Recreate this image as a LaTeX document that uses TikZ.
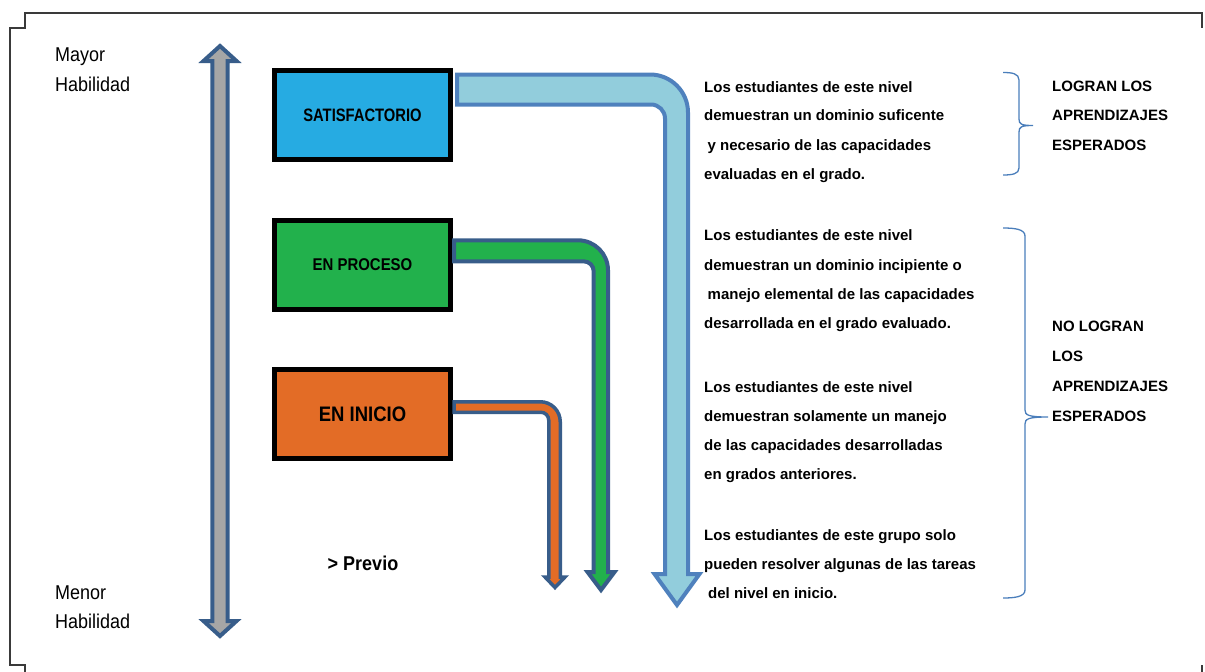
\documentclass[tikz,border=0pt]{standalone}
\usepackage{fontspec}
\setmainfont{Liberation Sans}
\newfontfamily\stA[FakeStretch=0.82]{Liberation Sans}
\newfontfamily\stB[FakeStretch=0.88]{Liberation Sans}
\newfontfamily\stC[FakeStretch=0.90]{Liberation Sans}
\definecolor{satfill}{RGB}{38,171,226}
\definecolor{profill}{RGB}{34,177,76}
\definecolor{inifill}{RGB}{227,108,38}
\definecolor{lbfill}{RGB}{146,205,220}
\definecolor{lbedge}{RGB}{79,129,189}
\definecolor{dkedge}{RGB}{56,93,138}
\definecolor{grayfill}{RGB}{166,166,166}
\definecolor{braceblue}{RGB}{74,126,187}
\definecolor{framegray}{RGB}{58,58,58}
\tikzset{
  levelbox/.style={draw=black, line width=5pt, minimum width=176pt, minimum height=89pt, inner sep=0pt},
  para/.style={anchor=base west, inner sep=0pt, font=\fontsize{15}{18}\selectfont\bfseries},
  sidelabel/.style={anchor=base west, inner sep=0pt, font=\fontsize{15}{18}\selectfont\bfseries},
  habil/.style={anchor=base west, inner sep=0pt, font=\stC\fontsize{20}{24}\selectfont},
  bracestyle/.style={draw=braceblue, line width=1.3pt},
  framestyle/.style={draw=framegray, line width=2pt},
  bentarrow/.style={line join=miter},
}
\begin{document}
\begin{tikzpicture}[x=1pt,y=-1pt]
\useasboundingbox (0,0) rectangle (1205,672);
% frame
\draw[framestyle] (25,672) -- (25,665) -- (10,665) -- (10,28) -- (25,28) -- (25,13) -- (1202,13) -- (1202,28);
\draw[framestyle] (1202,665) -- (1202,672);
% gray double arrow
\draw[fill=grayfill, draw=dkedge, line width=4pt, line join=miter]
  (220,46) -- (236.5,61) -- (227.7,61) -- (227.7,621) -- (236.5,621) -- (220,636)
  -- (203.5,621) -- (212.3,621) -- (212.3,61) -- (203.5,61) -- cycle;
% labels left
\node[habil] (may) at (55,61.7) {Mayor};
\node[habil] (hab1) at (55,91.7) {Habilidad};
\node[habil] (men) at (55,599.3) {Menor};
\node[habil] (hab2) at (55,628.3) {Habilidad};
% boxes
\node[levelbox, fill=satfill, font=\stA\fontsize{18}{20}\selectfont\bfseries] (sat) at (362.5,115) {SATISFACTORIO};
\node[levelbox, fill=profill, font=\stB\fontsize{17}{20}\selectfont\bfseries] (pro) at (362.5,265) {EN PROCESO};
\node[levelbox, fill=inifill, font=\stB\fontsize{21}{24}\selectfont\bfseries] (ini) at (362.5,414) {EN INICIO};
\node[inner sep=0pt, font=\stC\fontsize{20}{24}\selectfont\bfseries] (prev) at (363,563) {> Previo};
% light blue bent arrow
\draw[bentarrow, fill=lbfill, draw=lbedge, line width=4pt]
  (457,74.5) -- (650,74.5) .. controls (671,74.5) and (688,91.5) .. (688,112.5)
  -- (688,574) -- (699.5,574) -- (677,605) -- (654.5,574) -- (665,574) -- (665,118.5)
  .. controls (665,110.8) and (658.7,104.5) .. (651,104.5) -- (457,104.5) -- cycle;
% green bent arrow
\draw[bentarrow, fill=profill, draw=dkedge, line width=4pt]
  (454,240.3) -- (578,240.3) .. controls (594.6,240.3) and (608,253.7) .. (608,270.3)
  -- (608,572) -- (614.5,572) -- (601,590) -- (587.5,572) -- (593.7,572) -- (593.7,271.3)
  .. controls (593.7,265.8) and (589.2,261.3) .. (583.7,261.3) -- (454,261.3) -- cycle;
% orange bent arrow
\draw[bentarrow, fill=inifill, draw=dkedge, line width=3.5pt]
  (454,401.75) -- (540.25,401.75) .. controls (551.3,401.75) and (560.25,410.7) .. (560.25,421.75)
  -- (560.25,577) -- (565,577) -- (555,587.5) -- (545,577) -- (548.75,577) -- (548.75,420.25)
  .. controls (548.75,415.8) and (545.2,412.25) .. (540.75,412.25) -- (454,412.25) -- cycle;
% paragraphs
\foreach \yy/\txt [count=\i] in {
  92.7/Los estudiantes de este nivel,
  120.7/demuestran un dominio suficente,
  150/{\hspace*{3.5pt}y necesario de las capacidades},
  179/evaluadas en el grado.,
  240/Los estudiantes de este nivel,
  270/demuestran un dominio incipiente o,
  299/{\hspace*{3.5pt}manejo elemental de las capacidades},
  328/desarrollada en el grado evaluado.,
  392.7/Los estudiantes de este nivel,
  421.7/demuestran solamente un manejo,
  450/de las capacidades desarrolladas,
  479/en grados anteriores.,
  540/Los estudiantes de este grupo solo,
  569/pueden resolver algunas de las tareas,
  598/{\hspace*{4pt}del nivel en inicio.}}
  \node[para, name=p\i] at (704,\yy) {\txt};
% side labels
\foreach \yy/\txt [count=\i] in {91.7/LOGRAN LOS, 120.7/APRENDIZAJES, 150/ESPERADOS,
  331.7/NO LOGRAN, 361.7/LOS, 391.7/APRENDIZAJES, 421.7/ESPERADOS}
  \node[sidelabel, name=s\i] at (1052,\yy) {\txt};
% braces
\draw[bracestyle] (1003,72.5) .. controls (1012,72.5) and (1019,73.5) .. (1019,80)
  -- (1019,119) .. controls (1019,124) and (1021,125.5) .. (1033,125.5)
  .. controls (1021,125.5) and (1019,127) .. (1019,132)
  -- (1019,168) .. controls (1019,174) and (1012,175) .. (1003,175);
\draw[bracestyle] (1003,228) .. controls (1014,228) and (1025,229) .. (1025,236)
  -- (1025,410) .. controls (1025,415) and (1028,417) .. (1048,417)
  .. controls (1028,417) and (1025,419) .. (1025,424)
  -- (1025,590) .. controls (1025,597) and (1014,598) .. (1003,598);
\end{tikzpicture}
\end{document}
